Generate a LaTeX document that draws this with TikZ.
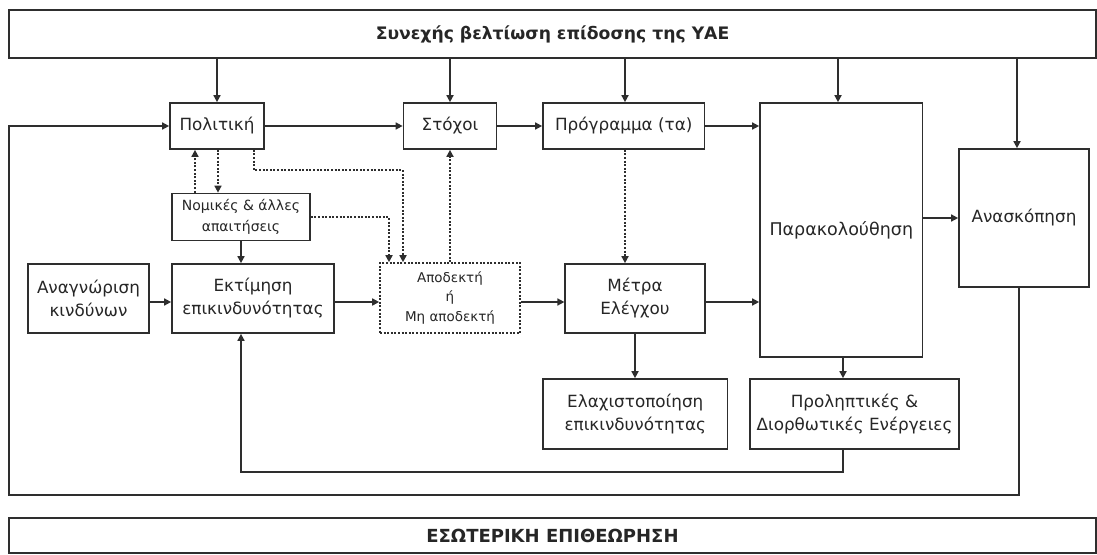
\documentclass[tikz,border=0pt]{standalone}
\usepackage{fontspec}
\setmainfont{DejaVu Sans}
\usetikzlibrary{arrows.meta,calc}
\definecolor{ln}{HTML}{2E2E2E}
\tikzset{
  box/.style={draw=ln, line width=1.7pt, fill=white, inner sep=0pt, align=center,
    font=\fontsize{16.8}{23}\selectfont, text=black!85},
  smallbox/.style={box, font=\fontsize{14}{20.5}\selectfont},
  bar/.style={box, font=\fontsize{17.2}{20}\selectfont\bfseries},
  arr/.style={draw=ln, line width=1.6pt, -{Triangle[length=7pt,width=7pt]}},
  dots/.style={draw=ln, line width=1.6pt, dash pattern=on 2pt off 1.6pt},
  darr/.style={dots, -{Triangle[length=7pt,width=7pt]}},
}
\begin{document}
\begin{tikzpicture}[x=1pt,y=-1pt]
\useasboundingbox (0,0) rectangle (1097,554);
% bars
\node[bar, minimum width=1087, minimum height=48] (top) at (552.5,34) {Συνεχής βελτίωση επίδοσης της ΥΑΕ};
\node[bar, minimum width=1087, minimum height=35, font=\fontsize{18}{20}\selectfont\bfseries] (bot) at (552.5,535.5) {ΕΣΩΤΕΡΙΚΗ ΕΠΙΘΕΩΡΗΣΗ};
% boxes
\node[box, minimum width=94, minimum height=46] (pol) at (217,126) {Πολιτική};
\node[box, minimum width=93, minimum height=46] (sto) at (450,126) {Στόχοι};
\node[box, minimum width=161.5, minimum height=46] (prog) at (623.75,126) {Πρόγραμμα (τα)};
\node[box, minimum width=162.6, minimum height=254, font=\fontsize{17.5}{23}\selectfont] (parak) at (841.3,230) {Παρακολούθηση};
\node[box, minimum width=130, minimum height=138] (anask) at (1024,218) {Ανασκόπηση};
\node[smallbox, minimum width=138, minimum height=47] (nom) at (241,217) {Νομικές \& άλλες\\απαιτήσεις};
\node[box, minimum width=121, minimum height=69] (anag) at (88.5,298.5) {Αναγνώριση\\κινδύνων};
\node[box, minimum width=162, minimum height=69] (ekt) at (253,298.5) {Εκτίμηση\\επικινδυνότητας};
\node[smallbox, dots, minimum width=140, minimum height=70, font=\fontsize{13.5}{19.5}\selectfont] (apod) at (450,298) {Αποδεκτή\\ή\\Μη αποδεκτή};
\node[box, minimum width=139.5, minimum height=69] (metra) at (635,298.5) {Μέτρα\\Ελέγχου};
\node[box, minimum width=184.5, minimum height=70] (elax) at (635.25,414) {Ελαχιστοποίηση\\επικινδυνότητας};
\node[box, minimum width=209, minimum height=70] (prol) at (854.5,414) {Προληπτικές \&\\Διορθωτικές Ενέργειες};
% arrows from top bar
\draw[arr] (top.south -| pol.north) -- (pol.north);
\draw[arr] (top.south -| sto.north) -- (sto.north);
\draw[arr] (top.south -| 625,0) -- (prog.north -| 625,0);
\draw[arr] (top.south -| 838,0) -- (parak.north -| 838,0);
\draw[arr] (top.south -| 1017,0) -- (anask.north -| 1017,0);
% main flow
\draw[arr] (pol.east) -- (sto.west);
\draw[arr] (sto.east) -- (prog.west);
\draw[arr] (prog.east) -- (prog.east -| parak.west);
\draw[arr] (anask.west -| parak.east) -- (anask.west);
\draw[arr] (anag.east |- 0,302) -- (ekt.west |- 0,302);
\draw[arr] (ekt.east |- 0,302) -- (apod.west |- 0,302);
\draw[arr] (apod.east |- 0,302) -- (metra.west |- 0,302);
\draw[arr] (metra.east |- 0,302) -- (parak.west |- 0,302);
\draw[arr] (metra.south) -- (metra.south |- elax.north);
\draw[arr] (parak.south -| 843,0) -- (prol.north -| 843,0);
\draw[arr] (nom.south) -- (ekt.north -| nom.south);
% dotted
\draw[darr] (nom.north -| 195,0) -- (pol.south -| 195,0);
\draw[darr] (pol.south -| 218,0) -- (nom.north -| 218,0);
\draw[darr] (pol.south -| 254,0) |- (403,170) -- (apod.north -| 403,0);
\draw[darr] (nom.east) -| (apod.north -| 389,0);
\draw[darr] (apod.north) -- (sto.south);
\draw[darr] (prog.south -| 625,0) -- (metra.north -| 625,0);
% feedback loops
\coordinate (fb) at (241,472);
\draw[arr] (prol.south -| 843,0) |- (fb) -- (ekt.south -| fb);
\coordinate (lo) at (9,495);
\draw[arr] (anask.south -| 1019,0) |- (lo) |- (pol.west);
\end{tikzpicture}
\end{document}
